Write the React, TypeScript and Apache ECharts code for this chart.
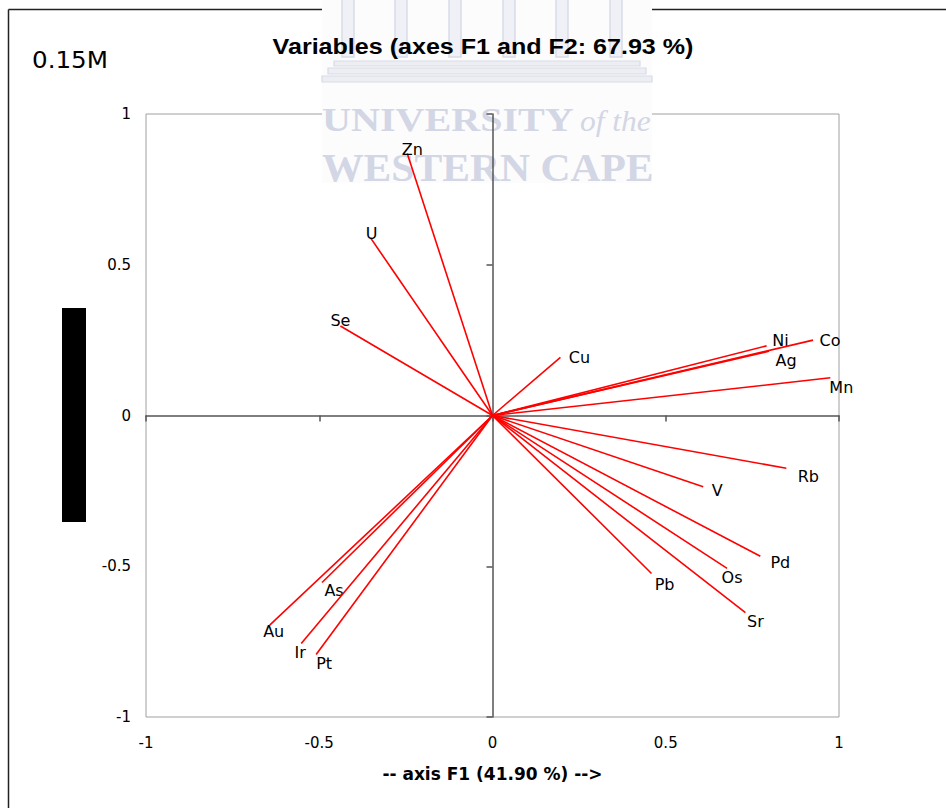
import React, { useEffect, useRef } from "react";
import * as echarts from "echarts";

// Correlation circle: loadings of each variable on F1 / F2
const variables = ["Zn", "U", "Se", "Cu", "Ni", "Co", "Ag", "Mn", "Rb", "V", "Pd", "Os", "Sr", "Pb", "As", "Au", "Ir", "Pt"];
const f1 = [-0.246, -0.352, -0.439, 0.196, 0.791, 0.925, 0.798, 0.975, 0.848, 0.608, 0.773, 0.677, 0.73, 0.459, -0.492, -0.643, -0.552, -0.509];
const f2 = [0.869, 0.589, 0.297, 0.193, 0.231, 0.25, 0.213, 0.125, -0.175, -0.236, -0.467, -0.507, -0.654, -0.524, -0.554, -0.695, -0.756, -0.793];

// Tick values shared by both axes
const ticks = [-1, -0.5, 0, 0.5, 1];

// Pixel nudges for each variable's label, relative to the arrow tip
const labelOffsets = [
  [5, -4], [1, -4], [0, -5], [19, 0], [14, -5], [17, 0], [17, 9], [11, 10], [22, 8],
  [14, 4], [20, 6], [5, 9], [10, 9], [13, 11], [12, 8], [4, 6], [-1, 9], [8, 9],
];

const titleText = "Variables (axes F1 and F2: 67.93 %)";
const xAxisTitle = "-- axis F1 (41.90 %) -->";
const scaleText = "0.15M";

const SANS = "DejaVu Sans";
const WM = "#d3d6e4";

const pillarCenters = [348, 401, 455, 509, 562, 616];

function App() {
  const ref = useRef<HTMLDivElement | null>(null);

  useEffect(() => {
    if (!ref.current) return;
    const chart = echarts.init(ref.current, null, { renderer: "svg" });

    const data = variables.map((name, i) => [f1[i], f2[i], i]);

    const watermark: any[] = [
      { type: "rect", z: 1, silent: true, shape: { x: 322, y: 0, width: 330, height: 183 }, style: { fill: "#fcfcfd" } },
      ...pillarCenters.map((cx) => ({
        type: "rect", z: 1, silent: true,
        shape: { x: cx - 6, y: -2, width: 12, height: 59 },
        style: { fill: "#f0f1f6", stroke: "#d8dbe7", lineWidth: 1.5 },
      })),
      { type: "rect", z: 1, silent: true, shape: { x: 334, y: 61, width: 306, height: 5 }, style: { fill: "#eceef4", stroke: "#d8dbe7", lineWidth: 1.2 } },
      { type: "rect", z: 1, silent: true, shape: { x: 328, y: 68, width: 318, height: 6 }, style: { fill: "#eceef4", stroke: "#d8dbe7", lineWidth: 1.2 } },
      { type: "rect", z: 1, silent: true, shape: { x: 322, y: 76, width: 330, height: 6 }, style: { fill: "#eceef4", stroke: "#d8dbe7", lineWidth: 1.2 } },
      {
        type: "text", z: 1, silent: true, x: 322, y: 137, scaleX: 1.18,
        style: { text: "UNIVERSITY", fontFamily: "Liberation Serif", fontWeight: "bold", fontSize: 34, fill: WM, verticalAlign: "bottom" },
      },
      {
        type: "text", z: 1, silent: true, x: 580, y: 136, scaleX: 1.05,
        style: { text: "of the", fontFamily: "Liberation Serif", fontStyle: "italic", fontSize: 30, fill: WM, verticalAlign: "bottom" },
      },
      {
        type: "text", z: 1, silent: true, x: 322, y: 188, scaleX: 1.04,
        style: { text: "WESTERN CAPE", fontFamily: "Liberation Serif", fontWeight: "bold", fontSize: 40, fill: WM, verticalAlign: "bottom" },
      },
    ];

    chart.setOption({
      animation: false,
      backgroundColor: "#ffffff",
      grid: {
        left: 146, right: 107, top: 114, bottom: 91,
        show: true, borderColor: "#a0a0a0", borderWidth: 1, backgroundColor: "transparent",
        containLabel: false, outerBoundsMode: "none",
      },
      xAxis: [
        {
          type: "value", min: -1, max: 1, interval: 0.5, z: 3,
          axisLine: { show: true, onZero: true, lineStyle: { color: "#555555", width: 1.5 } },
          axisTick: { show: true, length: 6, lineStyle: { color: "#555555", width: 1.5 } },
          axisLabel: { show: false },
          splitLine: { show: false },
        },
        {
          type: "value", min: ticks[0], max: ticks[ticks.length - 1], interval: 0.5, position: "bottom",
          axisLine: { show: false, onZero: false },
          axisTick: { show: false },
          splitLine: { show: false },
          axisLabel: { show: true, margin: 18, fontFamily: SANS, fontSize: 15, color: "#000000" },
          name: xAxisTitle, nameLocation: "middle", nameGap: 48,
          nameTextStyle: { fontFamily: SANS, fontWeight: "bold", fontSize: 17, color: "#000000" },
        },
      ],
      yAxis: [
        {
          type: "value", min: -1, max: 1, interval: 0.5, z: 3,
          axisLine: { show: true, onZero: true, lineStyle: { color: "#555555", width: 1.5 } },
          axisTick: { show: true, length: 6, lineStyle: { color: "#555555", width: 1.5 } },
          axisLabel: { show: false },
          splitLine: { show: false },
        },
        {
          type: "value", min: ticks[0], max: ticks[ticks.length - 1], interval: 0.5, position: "left",
          axisLine: { show: false, onZero: false },
          axisTick: { show: false },
          splitLine: { show: false },
          axisLabel: { show: true, margin: 15, fontFamily: SANS, fontSize: 15, color: "#000000" },
        },
      ],
      graphic: [
        // outer frame (left and top edges)
        { type: "line", z: 0, silent: true, shape: { x1: 8.5, y1: 9.5, x2: 946, y2: 9.5 }, style: { stroke: "#222222", lineWidth: 1.5 } },
        { type: "line", z: 0, silent: true, shape: { x1: 8.5, y1: 9.5, x2: 8.5, y2: 808 }, style: { stroke: "#222222", lineWidth: 1.5 } },
        ...watermark,
        {
          type: "text", z: 5, x: 483, y: 47, scaleX: 1.14,
          style: { text: titleText, fontFamily: "Liberation Sans", fontWeight: "bold", fontSize: 22, fill: "#000000", align: "center", verticalAlign: "middle" },
        },
        {
          type: "text", z: 5, x: 32, y: 60, scaleX: 1.07,
          style: { text: scaleText, fontFamily: SANS, fontSize: 23, fill: "#000000", align: "left", verticalAlign: "middle" },
        },
        { type: "rect", z: 5, shape: { x: 62, y: 308, width: 24, height: 214 }, style: { fill: "#000000" } },
      ],
      series: [
        {
          type: "custom",
          z: 4,
          clip: false,
          xAxisIndex: 0,
          yAxisIndex: 0,
          data,
          encode: { x: 0, y: 1 },
          renderItem: (params: any, api: any) => {
            const i = params.dataIndex;
            const o = api.coord([0, 0]);
            const p = api.coord([api.value(0), api.value(1)]);
            const off = labelOffsets[i];
            return {
              type: "group",
              children: [
                {
                  type: "line",
                  shape: { x1: o[0], y1: o[1], x2: p[0], y2: p[1] },
                  style: { stroke: "#ff0000", lineWidth: 1.6 },
                },
                {
                  type: "text",
                  style: {
                    text: variables[i],
                    x: p[0] + off[0],
                    y: p[1] + off[1],
                    align: "center",
                    verticalAlign: "middle",
                    fontFamily: SANS,
                    fontSize: 16,
                    fill: "#000000",
                  },
                },
              ],
            };
          },
        },
      ],
    });

    return () => chart.dispose();
  }, []);

  return (
    <div
      ref={ref}
      style={{ position: "absolute", left: 0, top: 0, width: 946, height: 808, background: "#ffffff" }}
    />
  );
}

export default App;
